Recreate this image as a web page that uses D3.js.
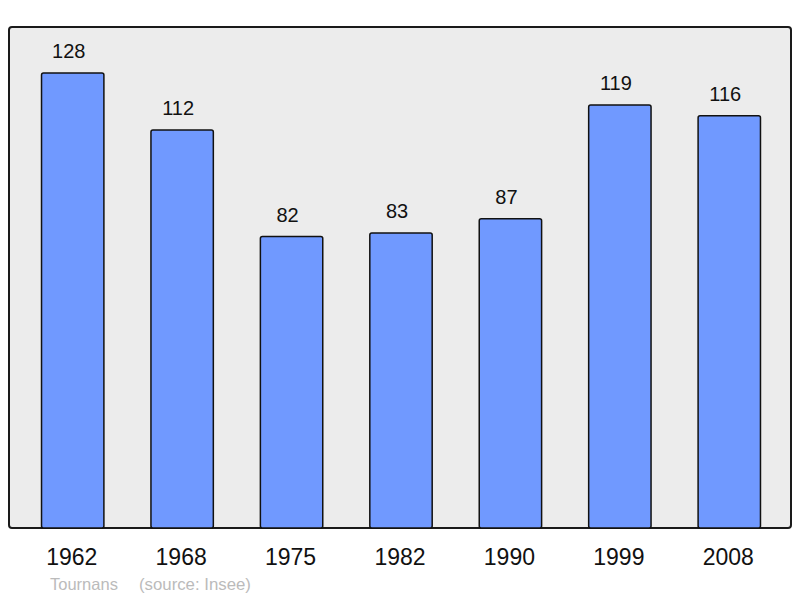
<!DOCTYPE html>
<html>
<head>
<meta charset="utf-8">
<script src="https://cdn.jsdelivr.net/npm/d3@7"></script>
<style>
  body { margin: 0; background: #fff; }
  svg { display: block; font-family: "Liberation Sans", Arial, sans-serif; }
</style>
</head>
<body>
<svg id="chart" width="800" height="598"></svg>
<script>
const years = ["1962", "1968", "1975", "1982", "1990", "1999", "2008"];
const population = [128, 112, 82, 83, 87, 119, 116];
const town = "Tournans";
const source = "(source: Insee)";

const svg = d3.select("#chart");
const plot = { left: 9, top: 27, right: 791, bottom: 528 };

svg.append("rect")
  .attr("x", plot.left)
  .attr("y", plot.top)
  .attr("width", plot.right - plot.left)
  .attr("height", plot.bottom - plot.top)
  .attr("rx", 3)
  .attr("fill", "#ececec")
  .attr("stroke", "#1a1a1a")
  .attr("stroke-width", 2);

const x = d3.scaleBand()
  .domain(years)
  .range([18, 784])
  .paddingInner(0.43)
  .paddingOuter(0.215);

const y = d3.scaleLinear()
  .domain([0, 128])
  .range([plot.bottom, 73]);

const bars = svg.append("g");
years.forEach((yr, i) => {
  const v = population[i];
  bars.append("rect")
    .attr("x", x(yr))
    .attr("y", y(v))
    .attr("width", x.bandwidth())
    .attr("height", y(0) - y(v))
    .attr("rx", 2)
    .attr("fill", "#7099ff")
    .attr("stroke", "#111")
    .attr("stroke-width", 1.5);
  bars.append("text")
    .attr("x", x(yr) + x.bandwidth() / 2 - 4)
    .attr("y", y(v) - 15)
    .attr("text-anchor", "middle")
    .attr("font-size", 20)
    .attr("fill", "#111")
    .text(v);
});

svg.append("g")
  .selectAll("text")
  .data(years)
  .join("text")
  .attr("x", d => x(d) + x.bandwidth() / 2 - 1)
  .attr("y", 565)
  .attr("text-anchor", "middle")
  .attr("font-size", 23)
  .attr("fill", "#111")
  .text(d => d);

// footer
svg.append("text")
  .attr("x", 50)
  .attr("y", 590)
  .attr("font-size", 16.5)
  .attr("fill", "#bbbbbb")
  .text(town);

svg.append("text")
  .attr("x", 139)
  .attr("y", 590)
  .attr("font-size", 16.8)
  .attr("fill", "#bbbbbb")
  .text(source);
</script>
</body>
</html>
